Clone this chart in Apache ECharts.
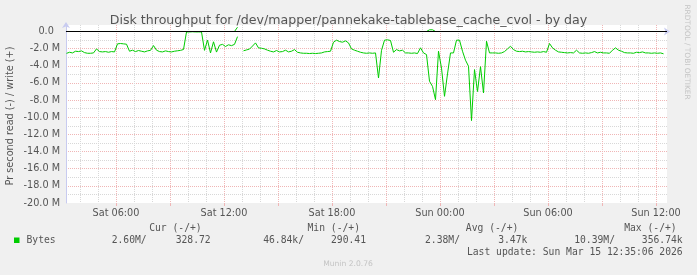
<!DOCTYPE html>
<html><head><meta charset="utf-8">
<script src="https://cdn.jsdelivr.net/npm/echarts@6/dist/echarts.min.js"></script>
<style>html,body{margin:0;padding:0;background:#f0f0f0;}#c{width:697px;height:275px;}</style>
</head><body><div id="c"></div>
<script>
const titleText = 'Disk throughput for /dev/mapper/pannekake-tablebase_cache_cvol - by day';
const yAxisTitle = 'Pr second read (-) / write (+)';
const startHour = 3.25;          // Sat 03:15
const stepHours = 1 / 6;         // 10 minutes
const readValues = [
 -2.55,-2.42,-2.50,-2.30,-2.34,-2.26,-2.46,-2.54,-2.54,-2.50,
 -2.03,-2.34,-2.38,-2.34,-2.42,-2.34,-2.38,-1.44,-1.40,-1.44,
 -1.48,-2.30,-2.18,-2.34,-2.22,-2.30,-2.38,-2.26,-2.20,-1.64,
 -2.18,-2.34,-2.38,-2.26,-2.34,-2.38,-2.30,-2.25,-2.20,-2.10,
 -0.05,-0.05,-0.03,-0.05,-0.05,-0.05,-2.20,-1.00,-2.50,-1.20,
 -2.40,-1.60,-1.50,-1.75,-1.55,-1.65,-1.50,-0.60,null,-2.25,
 -2.15,-2.05,-1.70,-1.33,-1.91,-1.95,-2.03,-2.18,-2.30,-2.38,
 -2.22,-2.38,-2.34,-2.18,-2.38,-2.30,-2.11,-2.42,-2.50,-2.54,
 -2.54,-2.57,-2.54,-2.57,-2.54,-2.50,-2.38,-2.34,-2.30,-1.25,
 -1.01,-1.17,-1.25,-1.09,-1.33,-2.03,-2.18,-2.30,-2.42,-2.50,
 -2.54,-2.50,-2.54,-2.50,-5.42,-2.20,-1.01,-0.97,-1.05,-2.42,
 -2.11,-2.26,-2.18,-2.50,-2.50,-2.54,-2.50,-2.57,-1.90,-2.50,
 -2.69,-5.80,-6.40,-7.95,-2.30,-4.27,-7.56,-4.95,-2.50,-2.50,
 -1.01,-1.01,-2.30,-3.35,-4.05,-10.39,-4.44,-7.00,-4.10,-7.17,
 -1.13,-2.50,-2.50,-2.50,-2.54,-2.50,-2.34,-2.03,-1.72,-2.11,
 -2.30,-2.34,-2.30,-2.38,-2.34,-2.38,-2.42,-2.38,-2.42,-2.34,
 -2.42,-1.40,-1.91,-2.18,-2.38,-2.42,-2.46,-2.50,-2.46,-2.50,
 -2.18,-2.50,-2.54,-2.50,-2.54,-2.46,-2.34,-2.50,-2.42,-2.50,
 -2.50,-2.54,-2.18,-1.91,-2.18,-2.30,-2.46,-2.50,-2.50,-2.54,
 -2.42,-2.46,-2.38,-2.50,-2.50,-2.54,-2.50,-2.54,-2.50,-2.60
];
const writeValues = [
 0,0,0,0,0,0,0,0,0,0, 0,0,0,0,0,0,0,0,0,0,
 0,0,0,0,0,0,0,0,0,0, 0,0,0,0,0,0,0,0,0,0,
 0,0,0,0,0,0,0,0,0,0, 0,0,0,0,0,0,0,0.5,null,0,
 0,0,0,0,0,0,0,0,0,0, 0,0,0,0,0,0,0,0,0,0,
 0,0,0,0,0,0,0,0,0,0, 0,0,0,0,0,0,0,0,0,0,
 0,0,0,0,0,0,0,0,0,0, 0,0,0,0,0,0,0,0,0,0,
 0,0.2,0.2,0,0,0,0,0,0,0, 0,0,0,0,0,0,0,0,0,0,
 0,0,0,0,0,0,0,0,0,0, 0,0,0,0,0,0,0,0,0,0,
 0,0,0,0,0,0,0,0,0,0, 0,0,0,0,0,0,0,0,0,0,
 0,0,0,0,0,0,0,0,0,0, 0,0,0,0,0,0,0,0,0,0
];
const xLabelHours = [6, 12, 18, 24, 30, 36];
const xGridHours = [4,5,6,7,8,9,10,11,12,13,14,15,16,17,18,19,20,21,22,23,24,25,26,27,28,29,30,31,32,33,34,35,36];
const xMajorHours = [6,9,12,15,18,21,24,27,30,33,36];
const yLabelValues = [-20,-18,-16,-14,-12,-10,-8,-6,-4,-2,0];
const yGridValues = [-19,-18,-17,-16,-15,-14,-13,-12,-11,-10,-9,-8,-7,-6,-5,-4,-3,-2,-1,0];
const legendHeaders = ['Cur (-/+)', 'Min (-/+)', 'Avg (-/+)', 'Max (-/+)'];
const legendName = 'Bytes';
const legendStats = [['2.60M/', '328.72'], ['46.84k/', '290.41'], ['2.38M/', '3.47k'], ['10.39M/', '356.74k']];
const lastUpdate = 'Last update: Sun Mar 15 12:35:06 2026';
const footerText = 'Munin 2.0.76';
const sideText = 'RRDTOOL / TOBI OETIKER';

const GREEN = '#00cc00';
const TXT = '#555555';
const SANS = '"DejaVu Sans", sans-serif';
const MONO = '"DejaVu Sans Mono", monospace';
const AXIS = '#c8cbf0';
const RED = '#f0b6b6';
const GRAY = '#d8d8d8';

const readData = readValues.map((v, i) => [startHour + i * stepHours, v]);
const writeData = writeValues.map((v, i) => [startHour + i * stepHours, v]);

const headerRight = [201.7, 360, 518.3, 676.7];
const statRight = [[146.7, 210.7], [304, 366], [460, 527.3], [615, 682.7]];

const graphics = [];
legendHeaders.forEach((t, k) => graphics.push({type:'text', style:{text:t, x:headerRight[k], y:228, align:'right', verticalAlign:'middle', font:'9.7px ' + MONO, fill:TXT}}));
graphics.push({type:'rect', shape:{x:14, y:237.5, width:5.5, height:5.5}, style:{fill:GREEN}});
graphics.push({type:'text', style:{text:legendName, x:26.5, y:240.5, align:'left', verticalAlign:'middle', font:'9.7px ' + MONO, fill:TXT}});
legendStats.forEach((p, k) => {
  graphics.push({type:'text', style:{text:p[0], x:statRight[k][0], y:240.5, align:'right', verticalAlign:'middle', font:'9.7px ' + MONO, fill:TXT}});
  graphics.push({type:'text', style:{text:p[1], x:statRight[k][1], y:240.5, align:'right', verticalAlign:'middle', font:'9.7px ' + MONO, fill:TXT}});
});
graphics.push({type:'text', style:{text:lastUpdate, x:682.7, y:252, align:'right', verticalAlign:'middle', font:'9.7px ' + MONO, fill:TXT}});
graphics.push({type:'text', style:{text:footerText, x:348, y:264, align:'center', verticalAlign:'middle', font:'7.6px ' + SANS, fill:'#c4c4c4'}});
graphics.push({type:'text', x:687, y:52, rotation:-Math.PI/2, style:{text:sideText, x:0, y:0, align:'center', verticalAlign:'middle', font:'7.4px ' + SANS, fill:'#c4c4c4'}});
graphics.push({type:'text', x:10, y:116, rotation:Math.PI/2, style:{text:yAxisTitle, x:0, y:0, align:'center', verticalAlign:'middle', font:'9.7px ' + SANS, fill:TXT}});

const chart = echarts.init(document.getElementById('c'), null, {renderer:'canvas'});
chart.setOption({
  animation: false,
  backgroundColor: '#f0f0f0',
  title: {text: titleText, left: 'center', top: 9, textStyle: {fontSize: 12.6, fontWeight: 'normal', color: TXT, fontFamily: SANS}},
  grid: {left: 66, right: 30, top: 25, bottom: 72, show: true, backgroundColor: '#ffffff', borderWidth: 0},
  xAxis: [{
    type: 'value', min: 3.2222, max: 36.6111,
    axisLine: {show: true, lineStyle: {color: AXIS, width: 1}, symbol: ['none', 'arrow'], symbolSize: [6, 6], symbolOffset: [0, 3]},
    axisTick: {show: false, customValues: xGridHours},
    axisLabel: {customValues: xLabelHours, margin: 5, fontSize: 9.7, color: TXT, fontFamily: SANS,
      formatter: h => (h < 24 ? 'Sat ' : 'Sun ') + String(h % 24).padStart(2, '0') + ':00'},
    splitLine: {show: true, lineStyle: {color: [GRAY, GRAY, RED], width: 1, type: [1, 1]}}
  }, {
    type: 'value', min: 3.2222, max: 36.6111, position: 'bottom',
    axisLine: {show: false},
    axisTick: {show: true, customValues: xMajorHours, length: 3, lineStyle: {color: RED}},
    axisLabel: {show: false}, splitLine: {show: false}
  }],
  yAxis: {
    type: 'value', min: -20, max: 0.758,
    axisLine: {show: true, lineStyle: {color: AXIS, width: 1}, symbol: ['none', 'arrow'], symbolSize: [6, 6], symbolOffset: [0, 3]},
    axisTick: {show: false, customValues: yGridValues},
    axisLabel: {customValues: yLabelValues, margin: 6, fontSize: 9.7, color: TXT, fontFamily: SANS,
      formatter: v => v === 0 ? '0.0  ' : v.toFixed(1) + ' M'},
    splitLine: {show: true, lineStyle: {color: [GRAY, RED], width: 1, type: [1, 1]}}
  },
  series: [{
    name: 'read', type: 'line', data: readData, showSymbol: false, symbol: 'none',
    lineStyle: {color: GREEN, width: 1}, itemStyle: {color: GREEN}, connectNulls: false, z: 2
  }, {
    name: 'write', type: 'line', data: writeData, showSymbol: false, symbol: 'none',
    lineStyle: {color: GREEN, width: 1}, itemStyle: {color: GREEN}, connectNulls: false, z: 2,
    markLine: {silent: true, symbol: ['none', 'none'], label: {show: false}, z: 5,
      lineStyle: {color: '#000000', width: 1, type: 'solid'}, data: [{yAxis: 0}]}
  }],
  graphic: graphics
});
</script></body></html>
